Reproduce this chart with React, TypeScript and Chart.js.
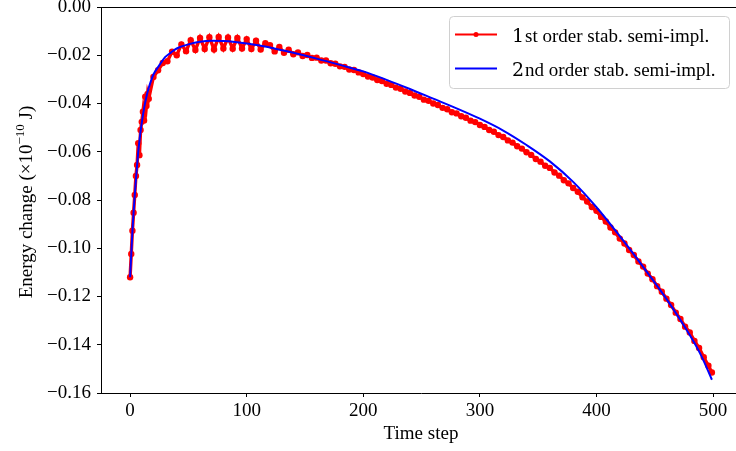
import React, { useEffect, useRef } from "react";
import { Chart, registerables } from "chart.js";

Chart.register(...registerables);

// ---- data ----
const redSteps = [
  0, 1, 2, 3, 4, 5, 6, 7, 8, 9, 10, 11, 12, 13, 14, 15, 16,
  20, 24, 28, 32, 36, 40, 44, 48, 52, 56, 60, 64, 68, 72, 76, 80, 84, 88, 92, 96, 100, 104, 108, 112, 116,
  120, 124, 128, 132, 136, 140, 144, 148, 152, 156, 160, 164, 168, 172, 176, 180, 184, 188, 192, 196,
  200, 204, 208, 212, 216, 220, 224, 228, 232, 236, 240, 244, 248, 252, 256, 260, 264, 268, 272, 276,
  280, 284, 288, 292, 296, 300, 304, 308, 312, 316, 320, 324, 328, 332, 336, 340, 344, 348, 352, 356,
  360, 364, 368, 372, 376, 380, 384, 388, 392, 396, 400, 404, 408, 412, 416, 420, 424, 428, 432, 436,
  440, 444, 448, 452, 456, 460, 464, 468, 472, 476, 480, 484, 488, 492, 496, 499,
];
const redEnergy = [
  -0.112, -0.1024, -0.0927, -0.0853, -0.0779, -0.07, -0.0655, -0.0565, -0.0614, -0.051, -0.0476, -0.0434, -0.047, -0.0372, -0.041, -0.036, -0.038,
  -0.029, -0.0262, -0.0232, -0.0225, -0.0185, -0.02, -0.0155, -0.0183, -0.0138, -0.0178, -0.0128, -0.0174, -0.0125, -0.0176, -0.0124, -0.0172, -0.0126, -0.0173, -0.0128, -0.0172, -0.0133, -0.0174, -0.014, -0.0176, -0.015,
  -0.0158, -0.0184, -0.0166, -0.019, -0.0177, -0.0196, -0.0188, -0.0203, -0.0199, -0.0211, -0.021, -0.0222, -0.0222, -0.0233, -0.0235, -0.0246, -0.0248, -0.0259, -0.0261, -0.0271,
  -0.0278, -0.0288, -0.0292, -0.0303, -0.0307, -0.0318, -0.0323, -0.0334, -0.0339, -0.035, -0.0356, -0.0367, -0.0372, -0.0384, -0.0389, -0.04, -0.0406, -0.0418, -0.0424, -0.0436,
  -0.0441, -0.0453, -0.0459, -0.0471, -0.0477, -0.0489, -0.0497, -0.051, -0.0517, -0.0531, -0.0539, -0.0553, -0.0562, -0.0577, -0.0587, -0.0602, -0.0613, -0.063, -0.0641, -0.0658,
  -0.0667, -0.0686, -0.0699, -0.0718, -0.0731, -0.075, -0.0766, -0.0789, -0.0806, -0.0829, -0.0845, -0.087, -0.0889, -0.0914, -0.0934, -0.096, -0.098, -0.1007, -0.1028, -0.1055,
  -0.1076, -0.1105, -0.1128, -0.1157, -0.118, -0.1209, -0.1235, -0.1267, -0.1293, -0.1325, -0.1349, -0.1384, -0.1413, -0.1452, -0.1487, -0.1515,
];

const blueSteps = [
  0, 1, 2, 3, 4, 5, 6, 7, 8, 9, 10, 12, 14, 16, 18, 20, 25, 30, 35, 40,
  50, 60, 70, 80, 90, 100, 110, 120, 140, 160, 180, 200, 220, 240, 260, 280,
  300, 320, 340, 360, 380, 400, 420, 440, 460, 480, 490, 499,
];
const blueEnergy = [
  -0.112, -0.1025, -0.093, -0.085, -0.078, -0.0715, -0.0655, -0.06, -0.0555, -0.0515, -0.048, -0.042, -0.0372, -0.0335, -0.0305, -0.028, -0.0242, -0.0208, -0.0189, -0.0172,
  -0.0155, -0.0144, -0.014, -0.0141, -0.0145, -0.0151, -0.0159, -0.0168, -0.019, -0.0214, -0.024, -0.0267, -0.0302, -0.034, -0.038, -0.042,
  -0.0463, -0.0512, -0.0572, -0.064, -0.0725, -0.083, -0.095, -0.1077, -0.121, -0.136, -0.1447, -0.1545,
];

const xTickValues = [0, 100, 200, 300, 400, 500];
const yTickValues = [-0.16, -0.14, -0.12, -0.1, -0.08, -0.06, -0.04, -0.02, 0];

const seriesLabels = ["1st order stab. semi-impl.", "2nd order stab. semi-impl."];

const SERIF = '"Liberation Serif", "Times New Roman", serif';
const MATH = '"DejaVu Serif", serif';
const FS = 19;

const decorPlugin = {
  id: "decor",
  afterDraw(chart: any) {
    const { ctx, chartArea } = chart;
    const { left, top, right, bottom } = chartArea;
    ctx.save();
    // top spine
    ctx.strokeStyle = "#000";
    ctx.lineWidth = 1;
    ctx.beginPath();
    ctx.moveTo(left, Math.round(top) + 0.5);
    ctx.lineTo(right, Math.round(top) + 0.5);
    ctx.stroke();

    ctx.fillStyle = "#000";
    // x title
    ctx.font = `${FS}px ${SERIF}`;
    ctx.textAlign = "center";
    ctx.textBaseline = "middle";
    ctx.fillText("Time step", (left + right) / 2, 434);

    // y title with superscript
    ctx.save();
    ctx.translate(32, (top + bottom) / 2 + 2);
    ctx.rotate(-Math.PI / 2);
    ctx.textAlign = "left";
    ctx.textBaseline = "alphabetic";
    const p1 = "Energy change (×10";
    const p2 = "−10";
    const p3 = " J)";
    ctx.font = `${FS}px ${SERIF}`;
    const w1 = ctx.measureText(p1).width;
    const w3 = ctx.measureText(p3).width;
    ctx.font = `${Math.round(FS * 0.7)}px ${SERIF}`;
    const w2 = ctx.measureText(p2).width;
    let x = -(w1 + w2 + w3) / 2;
    ctx.font = `${FS}px ${SERIF}`;
    ctx.fillText(p1, x, 0);
    x += w1;
    ctx.font = `${Math.round(FS * 0.7)}px ${SERIF}`;
    ctx.fillText(p2, x, -8);
    x += w2;
    ctx.font = `${FS}px ${SERIF}`;
    ctx.fillText(p3, x, 0);
    ctx.restore();

    // legend
    const bx = 449.5, by = 16.5, bw = 280, bh = 72;
    ctx.beginPath();
    (ctx as any).roundRect(bx, by, bw, bh, 4);
    ctx.fillStyle = "rgba(255,255,255,0.8)";
    ctx.fill();
    ctx.strokeStyle = "#d0d0d0";
    ctx.lineWidth = 1;
    ctx.stroke();

    const rows = [
      { y: 34.5, color: "#ff0000", marker: true, lead: "1", rest: seriesLabels[0].slice(1) },
      { y: 68.5, color: "#0000ff", marker: false, lead: "2", rest: seriesLabels[1].slice(1) },
    ];
    rows.forEach((r) => {
      ctx.strokeStyle = r.color;
      ctx.lineWidth = 2;
      ctx.beginPath();
      ctx.moveTo(455, r.y);
      ctx.lineTo(497, r.y);
      ctx.stroke();
      if (r.marker) {
        ctx.fillStyle = r.color;
        ctx.beginPath();
        ctx.arc(476, r.y, 2.5, 0, Math.PI * 2);
        ctx.fill();
      }
      ctx.fillStyle = "#000";
      ctx.textAlign = "left";
      ctx.textBaseline = "alphabetic";
      ctx.font = `${FS}px ${MATH}`;
      ctx.fillText(r.lead, 512, r.y + 7);
      const lw = ctx.measureText(r.lead).width;
      ctx.font = `${FS}px ${SERIF}`;
      ctx.fillText(r.rest, 512 + lw + 1, r.y + 7);
    });
    ctx.restore();
  },
};

const fmtY = (v: number) => {
  if (Math.abs(v) < 1e-9) return "0.00";
  return (v < 0 ? "−" : "") + Math.abs(v).toFixed(2);
};

export default function App() {
  const ref = useRef<HTMLCanvasElement | null>(null);
  useEffect(() => {
    if (!ref.current) return;
    const redData = redSteps.map((s, i) => ({ x: s, y: redEnergy[i] }));
    const blueData = blueSteps.map((s, i) => ({ x: s, y: blueEnergy[i] }));
    const tickFont = { family: SERIF, size: FS };
    const chart = new Chart(ref.current, {
      type: "line",
      data: {
        datasets: [
          {
            label: seriesLabels[0],
            data: redData,
            borderColor: "#ff0000",
            backgroundColor: "#ff0000",
            borderWidth: 3.4,
            pointRadius: 3.2,
            pointBorderWidth: 0,
            pointBorderColor: "#ff0000",
            pointBackgroundColor: "#ff0000",
            tension: 0,
            order: 2,
          },
          {
            label: seriesLabels[1],
            data: blueData,
            borderColor: "#0000ff",
            backgroundColor: "#0000ff",
            borderWidth: 2,
            pointRadius: 0,
            cubicInterpolationMode: "monotone",
            order: 1,
          },
        ],
      },
      options: {
        animation: false,
        responsive: false,
        maintainAspectRatio: false,
        devicePixelRatio: 1,
        layout: { padding: { left: 0, top: 7, right: 4, bottom: 0 } },
        plugins: { legend: { display: false }, tooltip: { enabled: false } },
        scales: {
          x: {
            type: "linear",
            min: -24.95,
            max: 523.95,
            afterBuildTicks: (scale: any) => {
              scale.ticks = xTickValues.map((v) => ({ value: v }));
            },
            afterFit: (scale: any) => {
              scale.height = 58;
              scale.paddingLeft = 0;
              scale.paddingRight = 0;
            },
            ticks: {
              font: tickFont,
              color: "#000",
              padding: 3,
              maxRotation: 0,
              autoSkip: false,
              callback: (v: any) => String(v),
            },
            grid: { drawOnChartArea: false, drawTicks: true, tickLength: 4, tickColor: "#000" },
            border: { display: true, color: "#000", width: 1 },
          },
          y: {
            type: "linear",
            min: -0.16,
            max: 0,
            afterBuildTicks: (scale: any) => {
              scale.ticks = yTickValues.map((v) => ({ value: v }));
            },
            afterFit: (scale: any) => {
              scale.width = 101;
              scale.paddingTop = 0;
              scale.paddingBottom = 0;
            },
            ticks: {
              font: tickFont,
              color: "#000",
              padding: 6,
              autoSkip: false,
              callback: (v: any) => fmtY(Number(v)),
            },
            grid: { drawOnChartArea: false, drawTicks: true, tickLength: 4, tickColor: "#000" },
            border: { display: true, color: "#000", width: 1 },
          },
        },
      },
      plugins: [decorPlugin],
    } as any);
    return () => chart.destroy();
  }, []);

  return (
    <div style={{ position: "fixed", left: 0, top: 0, width: 736, height: 451, overflow: "hidden", background: "#fff" }}>
      <canvas ref={ref} width={745} height={451} style={{ width: 745, height: 451, display: "block" }} />
    </div>
  );
}
